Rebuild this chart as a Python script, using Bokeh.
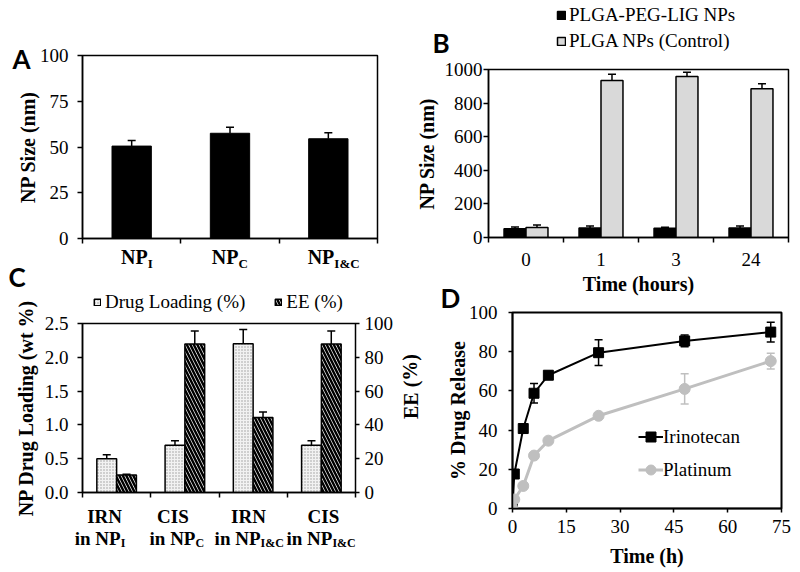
import numpy as np
from bokeh.plotting import figure
from bokeh.layouts import column, row
from bokeh.models import (Range1d, FixedTicker, Label, Legend, LegendItem, Whisker, GridBox,
                          ColumnDataSource, TeeHead, LinearAxis, PrintfTickFormatter)
from bokeh.embed import file_html
from bokeh.resources import INLINE

SERIF = "Liberation Serif"
LETTER_FONT = "Lato"
TICK_SIZE = "19px"
LABEL_SIZE = "20px"

# ---------------- data ----------------
# Panel A
a_cat_main = "NP"
a_cat_sub = ["I", "C", "I&C"]
a_size = [50.5, 57.5, 54.5]
a_size_err = [3.1, 3.3, 3.3]
a_ticks = [0, 25, 50, 75, 100]

# Panel B
b_times = ["0", "1", "3", "24"]
b_series = ["PLGA-PEG-LIG NPs", "PLGA NPs (Control)"]
b_lig = [52, 57, 55, 57]
b_lig_err = [10, 12, 6, 12]
b_ctrl = [60, 935, 958, 885]
b_ctrl_err = [15, 36, 25, 30]
b_ticks = [0, 200, 400, 600, 800, 1000]

# Panel C
c_drugs = ["IRN", "CIS", "IRN", "CIS"]
c_carrier_main = "in NP"
c_carrier_sub = ["I", "C", "I&C", "I&C"]
c_series = ["Drug Loading (%)", "EE (%)"]
c_loading = [0.5, 0.7, 2.2, 0.7]
c_loading_err = [0.057, 0.064, 0.21, 0.064]
c_ee = [10.3, 87.8, 44.4, 87.8]
c_ee_err = [0.5, 7.8, 3.3, 7.8]
c_left_ticks = [0, 0.5, 1.0, 1.5, 2.0, 2.5]
c_right_ticks = [0, 20, 40, 60, 80, 100]

# Panel D
d_series = ["Irinotecan", "Platinum"]
d_time = [0, 0.5, 3, 6, 10, 24, 48, 72]
d_irn = [0, 17.6, 40.8, 58.8, 68, 79.5, 85.5, 90]
d_irn_err = [0, 1.5, 2, 5, 2, 6.6, 3, 5]
d_pt = [0, 4.6, 11.5, 27, 34.6, 47.3, 61, 75.2]
d_pt_err = [0, 1, 1, 1.5, 1.5, 1.5, 7.7, 4]
d_xticks = [0, 15, 30, 45, 60, 75]
d_yticks = [0, 20, 40, 60, 80, 100]

# ---------------- styles ----------------
B_LIG_FILL = "black"
B_CTRL_FILL = "#d9d9d9"
C_LOAD_STYLE = dict(fill_color="#f2f2f2", line_color="black", line_width=1.5,
                    hatch_pattern="dot", hatch_color="#9a9a9a", hatch_scale=3, hatch_weight=1)
C_EE_STYLE = dict(fill_color="white", line_color="black", line_width=1.5,
                  hatch_pattern="\\", hatch_color="black", hatch_scale=7, hatch_weight=2.5)
GRAY = "#bfbfbf"


# ---------------- helpers ----------------
def style_axis(ax, tick_out=5):
    ax.axis_line_color = "black"
    ax.axis_line_width = 1.5
    ax.major_tick_line_color = "black"
    ax.major_tick_line_width = 1.5
    ax.major_tick_in = 0
    ax.major_tick_out = tick_out
    ax.minor_tick_line_color = None
    ax.major_label_text_font = SERIF
    ax.major_label_text_font_size = TICK_SIZE
    ax.major_label_text_color = "black"
    ax.axis_label_text_font = SERIF
    ax.axis_label_text_font_size = LABEL_SIZE
    ax.axis_label_text_font_style = "bold"
    ax.axis_label_text_color = "black"


def base_fig(w, h, xr, yr, ml, mr, mt, mb):
    p = figure(width=w, height=h, x_range=xr, y_range=yr, output_backend="svg",
               toolbar_location=None, min_border_left=ml, min_border_right=mr,
               min_border_top=mt, min_border_bottom=mb, frame_align=False)
    p.title.visible = False
    p.grid.visible = False
    p.outline_line_color = "black"
    p.outline_line_width = 1.5
    p.background_fill_color = "white"
    p.border_fill_color = "white"
    for ax in p.axis:
        style_axis(ax)
    return p


def category_axis(ax):
    ax.minor_tick_line_color = "black"
    ax.minor_tick_line_width = 1.5
    ax.minor_tick_in = 0
    ax.minor_tick_out = 5
    ax.major_tick_out = 0


def whisker(p, src, both=False, color="black", y_range_name="default"):
    w = Whisker(source=src, base="x", upper="upper", lower="lower" if both else "top",
                dimension="height", line_color=color, line_width=1.5,
                upper_head=TeeHead(size=8, line_color=color, line_width=1.5),
                lower_head=TeeHead(size=8, line_color=color, line_width=1.5) if both else None,
                y_range_name=y_range_name)
    p.add_layout(w)


def plain_legend(items, location, orientation, glyph, standoff, label_height, spacing):
    return Legend(items=items, location=location, orientation=orientation,
                  glyph_width=glyph, glyph_height=glyph, label_standoff=standoff,
                  label_height=label_height, spacing=spacing, padding=0, margin=0,
                  border_line_color=None, background_fill_alpha=0,
                  label_text_font=SERIF, label_text_font_size="19px",
                  label_text_color="black")


# ---------------- Panel A ----------------
A_L, A_R, A_T, A_B = 82, 377, 55, 238
pA = base_fig(410, 291, Range1d(0, 3), Range1d(0, 100), A_L, 410 - A_R, A_T, 291 - A_B)
xa = [i + 0.5 for i in range(len(a_size))]
srcA = ColumnDataSource(dict(x=xa, top=a_size,
                             upper=[v + e for v, e in zip(a_size, a_size_err)]))
pA.vbar(x="x", top="top", width=0.4, source=srcA, fill_color="black", line_color="black")
whisker(pA, srcA)
pA.yaxis.ticker = FixedTicker(ticks=a_ticks)
pA.yaxis.major_label_standoff = 9
pA.yaxis.axis_label = "NP Size (nm)"
pA.yaxis.axis_label_standoff = -2
pA.xaxis.ticker = FixedTicker(ticks=[], minor_ticks=[0, 1, 2, 3])
category_axis(pA.xaxis)

# ---------------- Panel B ----------------
B_X0 = 410
B_L, B_R, B_T, B_B = 488, 788, 69, 237
pB = base_fig(390, 291, Range1d(0, 4), Range1d(0, 1000), B_L - B_X0, 800 - B_R, B_T, 291 - B_B)
xb = [i + 0.5 for i in range(len(b_times))]
bw = 0.293
srcB1 = ColumnDataSource(dict(x=[x - bw / 2 for x in xb], top=b_lig,
                              upper=[v + e for v, e in zip(b_lig, b_lig_err)]))
srcB2 = ColumnDataSource(dict(x=[x + bw / 2 for x in xb], top=b_ctrl,
                              upper=[v + e for v, e in zip(b_ctrl, b_ctrl_err)]))
pB.vbar(x="x", top="top", width=bw, source=srcB1, fill_color=B_LIG_FILL,
        line_color="black", line_width=1.5)
pB.vbar(x="x", top="top", width=bw, source=srcB2, fill_color=B_CTRL_FILL,
        line_color="black", line_width=1.5)
whisker(pB, srcB1)
whisker(pB, srcB2)
pB.yaxis.ticker = FixedTicker(ticks=b_ticks)
pB.yaxis.major_label_standoff = 1
pB.yaxis.axis_label = "NP Size (nm)"
pB.yaxis.axis_label_standoff = 4
pB.xaxis.ticker = FixedTicker(ticks=xb, minor_ticks=[0, 1, 2, 3, 4])
pB.xaxis.major_label_overrides = {x: t for x, t in zip(xb, b_times)}
category_axis(pB.xaxis)
pB.xaxis.major_label_standoff = 10

# ---------------- Panel C ----------------
C_Y0 = 291
C_L, C_R, C_T, C_B = 82, 355, 323, 492
pC = base_fig(425, 281, Range1d(0, 4), Range1d(0, 2.5), C_L, 425 - C_R, C_T - C_Y0, 572 - C_B)
pC.extra_y_ranges = {"ee": Range1d(0, 100)}
xc = [i + 0.5 for i in range(len(c_drugs))]
cw = 0.29
srcC1 = ColumnDataSource(dict(x=[x - cw / 2 for x in xc], top=c_loading,
                              upper=[v + e for v, e in zip(c_loading, c_loading_err)]))
srcC2 = ColumnDataSource(dict(x=[x + cw / 2 for x in xc], top=c_ee,
                              upper=[v + e for v, e in zip(c_ee, c_ee_err)]))
pC.vbar(x="x", top="top", width=cw, source=srcC1, **C_LOAD_STYLE)
pC.vbar(x="x", top="top", width=cw, source=srcC2, y_range_name="ee", **C_EE_STYLE)
whisker(pC, srcC1)
whisker(pC, srcC2, y_range_name="ee")
pC.yaxis.ticker = FixedTicker(ticks=c_left_ticks)
pC.yaxis.formatter = PrintfTickFormatter(format="%.1f")
pC.yaxis.major_label_standoff = 9
pC.yaxis.axis_label = "NP Drug Loading (wt %)"
pC.yaxis.axis_label_standoff = 5
axR = LinearAxis(y_range_name="ee", ticker=FixedTicker(ticks=c_right_ticks))
style_axis(axR, tick_out=4)
axR.major_label_standoff = 5
axR.axis_line_width = 1
pC.add_layout(axR, "right")
pC.xaxis.ticker = FixedTicker(ticks=[], minor_ticks=[0, 1, 2, 3, 4])
category_axis(pC.xaxis)

# ---------------- Panel D ----------------
D_X0, D_Y0 = 425, 291
D_L, D_R, D_T, D_B = 512, 781, 312, 508
pD = base_fig(375, 281, Range1d(0, 75), Range1d(0, 100), D_L - D_X0, 800 - D_R, D_T - D_Y0, 572 - D_B)
srcD1 = ColumnDataSource(dict(x=d_time, y=d_irn,
                              upper=[v + e for v, e in zip(d_irn, d_irn_err)],
                              lower=[v - e for v, e in zip(d_irn, d_irn_err)]))
srcD2 = ColumnDataSource(dict(x=d_time, y=d_pt,
                              upper=[v + e for v, e in zip(d_pt, d_pt_err)],
                              lower=[v - e for v, e in zip(d_pt, d_pt_err)]))
lD1 = pD.line("x", "y", source=srcD1, line_color="black", line_width=2)
mD1 = pD.scatter("x", "y", source=srcD1, marker="square", size=10,
                 fill_color="black", line_color="black")
lD2 = pD.line("x", "y", source=srcD2, line_color=GRAY, line_width=3)
mD2 = pD.scatter("x", "y", source=srcD2, marker="circle", size=11,
                 fill_color=GRAY, line_color=GRAY)
whisker(pD, srcD1, both=True)
whisker(pD, srcD2, both=True, color=GRAY)
pD.xaxis.ticker = FixedTicker(ticks=d_xticks)
pD.xaxis.major_tick_out = 4
pD.xaxis.major_label_standoff = 7
pD.yaxis.ticker = FixedTicker(ticks=d_yticks)
pD.yaxis.major_tick_out = 4
pD.yaxis.major_label_standoff = 11
pD.yaxis.axis_label = "% Drug Release"
pD.yaxis.axis_label_standoff = -3
pD.outline_line_width = 2
pD.add_layout(plain_legend([LegendItem(label=d_series[0], renderers=[lD1, mD1]),
                            LegendItem(label=d_series[1], renderers=[lD2, mD2])],
                           (126, 26), "vertical", 25, 0, 24, 8))

# ---------------- overlay: texts and legends lying outside the plot frames ----------------
W, H = 800, 572
ov = figure(width=W, height=H, x_range=Range1d(0, W), y_range=Range1d(H, 0),
            x_axis_location=None, y_axis_location=None, output_backend="svg",
            toolbar_location=None, min_border=0, frame_align=False)
ov.title.visible = False
ov.grid.visible = False
ov.outline_line_color = None
ov.background_fill_color = None
ov.border_fill_color = None


def ov_label(text, x, y, size="19px", bold=True, font=SERIF, align="center", angle=0):
    ov.add_layout(Label(x=x, y=y, text=text, text_font=font, text_font_size=size,
                        text_font_style="bold" if bold else "normal", text_align=align,
                        text_baseline="middle", angle=angle, text_color="black"))


# legend keys for panels B and C: invisible (NaN) proxies carrying the bars' styles
NAN = np.array([np.nan])
kB1 = ov.vbar(x=NAN, top=NAN, width=1, fill_color=B_LIG_FILL, line_color="black", line_width=1.5)
kB2 = ov.vbar(x=NAN, top=NAN, width=1, fill_color=B_CTRL_FILL, line_color="black", line_width=1.5)
kC1 = ov.vbar(x=NAN, top=NAN, width=1, **C_LOAD_STYLE)
kC2 = ov.vbar(x=NAN, top=NAN, width=1, **C_EE_STYLE)
ov.add_layout(plain_legend([LegendItem(label=b_series[0], renderers=[kB1]),
                            LegendItem(label=b_series[1], renderers=[kB2])],
                           (556, H - 53), "vertical", 10, 3, 25, 1))
ov.add_layout(plain_legend([LegendItem(label=c_series[0], renderers=[kC1]),
                            LegendItem(label=c_series[1], renderers=[kC2])],
                           (93, H - 313), "horizontal", 8, 4, 22, 29))

# panel letters
for letter, lx, ly in [("A", 12, 58.5), ("B", 432, 42.5), ("C", 8, 276.5), ("D", 440, 297)]:
    ov_label(letter, lx, ly, size="26px", font=LETTER_FONT, align="left")

# panel A category labels (NP with subscripts)
a_cw = (A_R - A_L) / len(a_cat_sub)
a_np_dx = [16, 8.5, 6]
for i, sub in enumerate(a_cat_sub):
    cx = A_L + (i + 0.5) * a_cw + a_np_dx[i]
    ov_label(a_cat_main, cx, A_B + 18, size="20px", align="right")
    ov_label(sub, cx, A_B + 25, size="13px", align="left")

# panel B / D axis titles
ov_label("Time (hours)", (B_L + B_R) / 2, 283, size="20px")
ov_label("Time (h)", (D_L + D_R) / 2, 555, size="20px")

# panel C right-axis title and two-line category labels
ov_label("EE (%)", 410, 386, size="20px", angle=1.5708)
c_cw = (C_R - C_L) / len(c_drugs)
c_line1_dx = [-12, -12, -4.6, 2]
c_line2_dx = [4, 10.6, 7.4, 11]
for i in range(len(c_drugs)):
    cx = C_L + (i + 0.5) * c_cw
    ov_label(c_drugs[i], cx + c_line1_dx[i], C_B + 24)
    ov_label(c_carrier_main, cx + c_line2_dx[i], C_B + 45.5, align="right")
    ov_label(c_carrier_sub[i], cx + c_line2_dx[i], C_B + 50, size="12px", align="left")

panels = column(row(pA, pB), row(pC, pD))
layout = GridBox(children=[(panels, 0, 0), (ov, 0, 0)],
                 cols=["%dpx" % W], rows=["%dpx" % H])
open("out.html", "w").write(file_html(layout, INLINE))
